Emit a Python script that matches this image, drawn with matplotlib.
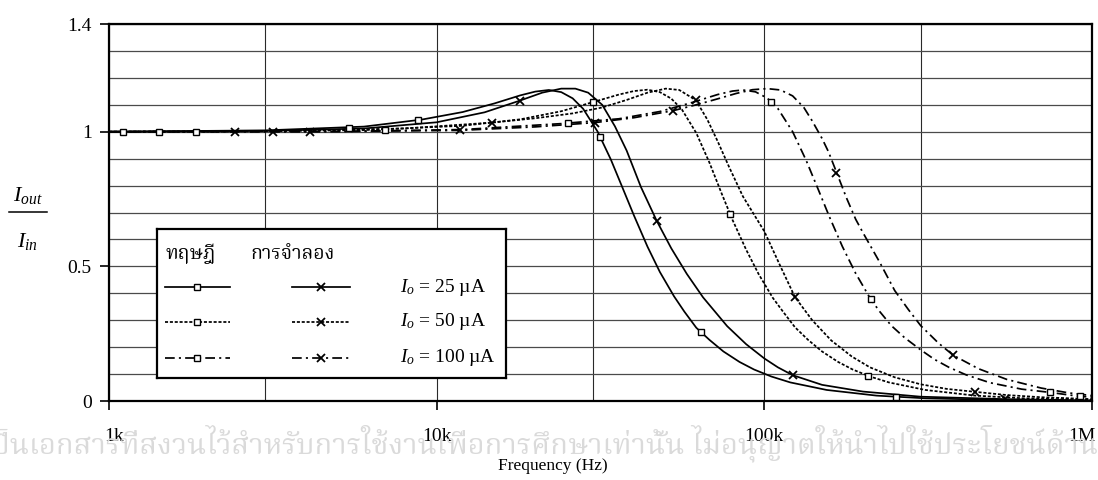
import numpy as np
import matplotlib
matplotlib.use("Agg")
import matplotlib.pyplot as plt
from matplotlib import font_manager
from matplotlib.ft2font import FT2Font
from matplotlib.lines import Line2D
from matplotlib import transforms

# ---------------- data ----------------
theory_25_f = [1e3, 3e3, 6e3, 9e3, 12e3, 15e3, 18e3, 20e3, 22e3, 24e3, 26e3, 28e3, 31e3, 34e3,
               37e3, 40e3, 44e3, 48e3, 53e3, 57e3, 62e3, 68e3, 75e3, 84e3, 93e3, 105e3, 120e3,
               155e3, 220e3, 310e3, 470e3, 1e6]
theory_25_v = [1.000, 1.005, 1.019, 1.045, 1.073, 1.105, 1.135, 1.149, 1.155, 1.147, 1.124, 1.085,
               1.000, 0.897, 0.789, 0.689, 0.573, 0.479, 0.389, 0.332, 0.272, 0.227, 0.184, 0.145,
               0.117, 0.091, 0.069, 0.041, 0.020, 0.010, 0.005, 0.001]
theory_25_mf = [1.1e3, 5.4e3, 8.8e3, 31.5e3, 64e3, 253e3]
theory_25_mv = [1.000, 1.015, 1.044, 0.982, 0.255, 0.016]

theory_50_f = [1e3, 2e3, 6e3, 12e3, 18e3, 24e3, 30e3, 36e3, 40e3, 44e3, 48e3, 52e3, 56e3, 62e3,
               68e3, 74e3, 80e3, 88e3, 96e3, 106e3, 114e3, 124e3, 136e3, 150e3, 168e3, 186e3,
               210e3, 240e3, 310e3, 440e3, 620e3, 1e6]
theory_50_v = [1.000, 1.000, 1.006, 1.022, 1.046, 1.076, 1.110, 1.138, 1.151, 1.156, 1.147, 1.123,
               1.083, 0.995, 0.885, 0.772, 0.672, 0.562, 0.472, 0.384, 0.332, 0.274, 0.227, 0.184,
               0.145, 0.117, 0.091, 0.069, 0.041, 0.020, 0.010, 0.004]
theory_50_mf = [1.42e3, 6.95e3, 30e3, 78.5e3, 207e3]
theory_50_mv = [1.000, 1.007, 1.110, 0.695, 0.094]

theory_100_f = [1e3, 5e3, 12e3, 24e3, 36e3, 48e3, 60e3, 72e3, 80e3, 86e3, 94e3, 102e3, 110e3, 122e3,
                134e3, 146e3, 158e3, 173e3, 190e3, 210e3, 224e3, 244e3, 268e3, 300e3, 330e3, 366e3,
                413e3, 488e3, 610e3, 744e3, 918e3, 1e6]
theory_100_v = [1.000, 1.001, 1.008, 1.030, 1.048, 1.075, 1.108, 1.138, 1.151, 1.155, 1.148, 1.125,
                1.086, 1.000, 0.895, 0.786, 0.684, 0.574, 0.474, 0.383, 0.335, 0.280, 0.235, 0.190,
                0.155, 0.125, 0.097, 0.068, 0.044, 0.032, 0.017, 0.015]
theory_100_mf = [1.84e3, 25.2e3, 105e3, 212e3, 744e3, 918e3]
theory_100_mv = [1.000, 1.031, 1.112, 0.378, 0.032, 0.017]

sim_25_f = [1e3, 3e3, 6e3, 10e3, 14e3, 17.9e3, 21e3, 24e3, 26.5e3, 29e3, 32e3, 35e3, 38e3, 42e3,
            46.9e3, 52e3, 58e3, 65e3, 77e3, 88e3, 100e3, 110e3, 122e3, 150e3, 200e3, 300e3, 540e3, 1e6]
sim_25_v = [1.000, 1.003, 1.012, 1.035, 1.072, 1.115, 1.145, 1.160, 1.160, 1.145, 1.100, 1.020,
            0.930, 0.795, 0.670, 0.567, 0.472, 0.385, 0.278, 0.211, 0.158, 0.125, 0.096, 0.060,
            0.035, 0.016, 0.007, 0.002]
sim_25_mf = [2.42e3, 17.9e3, 46.9e3, 122e3, 542e3]
sim_25_mv = [1.000, 1.115, 0.670, 0.096, 0.008]

sim_50_f = [1e3, 3e3, 8e3, 14.8e3, 20e3, 26e3, 32e3, 38e3, 44e3, 50e3, 55e3, 61.8e3, 67e3, 72e3,
            78e3, 86e3, 100e3, 112e3, 124e3, 140e3, 160e3, 185e3, 210e3, 250e3, 300e3, 360e3,
            440e3, 550e3, 700e3, 1e6]
sim_50_v = [1.000, 1.002, 1.012, 1.034, 1.050, 1.068, 1.090, 1.118, 1.145, 1.160, 1.155, 1.117,
            1.045, 0.965, 0.870, 0.760, 0.630, 0.500, 0.386, 0.300, 0.225, 0.165, 0.125, 0.088,
            0.062, 0.045, 0.034, 0.022, 0.014, 0.007]
sim_50_mf = [3.17e3, 14.8e3, 61.8e3, 124e3, 440e3]
sim_50_mv = [1.000, 1.034, 1.117, 0.386, 0.034]

sim_100_f = [1e3, 4.1e3, 11.8e3, 20e3, 30.5e3, 40e3, 52.6e3, 62e3, 72e3, 82e3, 92e3, 102e3, 112e3,
             122e3, 132e3, 140e3, 150e3, 157e3, 166e3, 178e3, 190e3, 200e3, 225e3, 250e3, 275e3,
             300e3, 340e3, 377e3, 450e3, 550e3, 700e3, 850e3, 1e6]
sim_100_v = [1.000, 1.000, 1.005, 1.018, 1.034, 1.052, 1.078, 1.100, 1.122, 1.142, 1.156, 1.160,
             1.155, 1.133, 1.090, 1.040, 0.975, 0.925, 0.850, 0.755, 0.675, 0.625, 0.515, 0.410,
             0.340, 0.280, 0.215, 0.170, 0.120, 0.080, 0.048, 0.030, 0.020]
sim_100_mf = [4.1e3, 11.8e3, 30.5e3, 52.6e3, 166e3, 377e3]
sim_100_mv = [1.000, 1.005, 1.034, 1.078, 0.845, 0.170]

x_ticks = [1e3, 1e4, 1e5, 1e6]
x_tick_labels = ["1k", "10k", "100k", "1M"]
x_grid_minor = [3e3, 3e4, 3e5]
y_ticks = [0, 0.5, 1, 1.4]
y_tick_labels = ["0", "0.5", "1", "1.4"]
y_grid_minor = [0.1, 0.2, 0.3, 0.4, 0.6, 0.7, 0.8, 0.9, 1.1, 1.2, 1.3]

legend_theory = "ทฤษฎี"
legend_sim = "การจำลอง"
currents = ["25", "50", "100"]
x_label = "Frequency (Hz)"
watermark = "นี้เป็นเอกสารที่สงวนไว้สำหรับการใช้งานเพื่อการศึกษาเท่านั้น ไม่อนุญาตให้นำไปใช้ประโยชน์ด้านการค้า"


# ---------------- fonts ----------------
def find_thai_font():
    preferred = ["Norasi", "Kinnari", "TH Sarabun New", "TH SarabunPSK", "Laksaman",
                 "Noto Serif Thai", "Garuda", "Loma", "Noto Sans Thai", "Waree", "Umpush"]
    found = []
    for fe in font_manager.fontManager.ttflist:
        try:
            ft = FT2Font(fe.fname)
            if ft.get_char_index(0x0E17) and ft.get_char_index(0x0E24):
                found.append(fe.name)
        except Exception:
            continue
    for p in preferred:
        if p in found:
            return p
    return found[0] if found else "DejaVu Sans"


thai = find_thai_font()

plt.rcParams["font.family"] = ["Liberation Serif", "DejaVu Serif"]
plt.rcParams["mathtext.fontset"] = "custom"
plt.rcParams["mathtext.rm"] = "Liberation Serif"
plt.rcParams["mathtext.it"] = "Liberation Serif:italic"
plt.rcParams["lines.scale_dashes"] = False

W, H = 1098, 480


def fx(x):
    return x / W


def fy(y):
    return 1 - y / H


fig = plt.figure(figsize=(W / 100, H / 100), dpi=100)
fig.patch.set_facecolor("white")

# faint watermark text along the bottom (cut at both edges, as in the reference)
fig.text(fx(-38), fy(443), watermark, fontsize=21, color="#dadada", ha="left", va="center",
         family=[thai, "DejaVu Sans"], zorder=0)

ax = fig.add_axes([fx(109), fy(401), fx(1092) - fx(109), fy(24) - fy(401)])
ax.set_xscale("log")
ax.set_xlim(1e3, 1e6)
ax.set_ylim(0, 1.4)
ax.set_facecolor("none")

ax.set_xticks(x_ticks)
ax.set_xticklabels(x_tick_labels)
ax.set_xticks(x_grid_minor, minor=True)
ax.set_xticklabels([], minor=True)
ax.set_yticks(y_ticks)
ax.set_yticklabels(y_tick_labels)
ax.set_yticks(y_grid_minor, minor=True)

ax.tick_params(axis="both", which="major", direction="out", length=6.5, width=1.2,
               labelsize=14, color="k")
ax.tick_params(axis="x", which="major", pad=13)
ax.tick_params(axis="y", which="major", pad=6)
ax.tick_params(axis="both", which="minor", length=0)

# last x tick label sits flush against the right edge, as in the reference
last = ax.get_xticklabels()[-1]
last.set_ha("right")
last.set_transform(last.get_transform() + transforms.ScaledTranslation(4 / 100, 0, fig.dpi_scale_trans))
first = ax.get_xticklabels()[0]
first.set_transform(first.get_transform() + transforms.ScaledTranslation(5 / 100, 0, fig.dpi_scale_trans))

ax.grid(True, axis="y", which="both", color="#4a4a4a", lw=0.9)
ax.grid(True, axis="x", which="both", color="#2a2a2a", lw=0.8)
ax.set_axisbelow(True)
for s in ax.spines.values():
    s.set_linewidth(1.6)
    s.set_color("k")

ls_map = {"25": "-", "50": (0, (2.2, 1.3)), "100": (0, (7, 3, 1.5, 3))}
lw = 1.25

series = [
    ("25", theory_25_f, theory_25_v, theory_25_mf, theory_25_mv, "s"),
    ("50", theory_50_f, theory_50_v, theory_50_mf, theory_50_mv, "s"),
    ("100", theory_100_f, theory_100_v, theory_100_mf, theory_100_mv, "s"),
    ("25", sim_25_f, sim_25_v, sim_25_mf, sim_25_mv, "x"),
    ("50", sim_50_f, sim_50_v, sim_50_mf, sim_50_mv, "x"),
    ("100", sim_100_f, sim_100_v, sim_100_mf, sim_100_mv, "x"),
]


def marker_kw(m):
    if m == "s":
        return dict(marker="s", ms=5, mfc="white", mec="k", mew=1.0)
    return dict(marker="x", ms=6, mec="k", mew=1.3)


for cur, f, v, mf, mv, m in series:
    ax.plot(f, v, color="k", lw=lw, ls=ls_map[cur], zorder=3)
    ax.plot(mf, mv, ls="none", zorder=4, **marker_kw(m))

# y label as a fraction
fig.text(fx(28), fy(196), r"$I_{out}$", ha="center", va="center", fontsize=16)
fig.add_artist(Line2D([fx(9), fx(47)], [fy(212), fy(212)], color="k", lw=1.1))
fig.text(fx(27), fy(242), r"$I_{in}$", ha="center", va="center", fontsize=16)

# x label
fig.text(fx(553), fy(466), x_label, ha="center", va="center", fontsize=12.5, color="k")

# legend box
lx0, lx1, ly0, ly1 = 157, 506, 229, 378
lax = fig.add_axes([fx(lx0), fy(ly1), fx(lx1) - fx(lx0), fy(ly0) - fy(ly1)])
lax.set_xlim(lx0, lx1)
lax.set_ylim(ly1, ly0)
lax.set_xticks([])
lax.set_yticks([])
lax.set_facecolor("white")
for s in lax.spines.values():
    s.set_linewidth(1.6)
    s.set_color("k")

lax.text(165, 254, legend_theory, ha="left", va="center", fontsize=14,
         family=[thai, "DejaVu Sans"], fontweight="bold")
lax.text(250, 254, legend_sim, ha="left", va="center", fontsize=14,
         family=[thai, "DejaVu Sans"], fontweight="bold")

row_y = [287, 322, 358]
for cur, yy in zip(currents, row_y):
    lax.plot([165, 230], [yy, yy], color="k", lw=lw, ls=ls_map[cur])
    lax.plot([197], [yy], ls="none", **marker_kw("s"))
    lax.plot([292, 350], [yy, yy], color="k", lw=lw, ls=ls_map[cur])
    lax.plot([321], [yy], ls="none", **marker_kw("x"))
    lax.text(400, yy, r"$I_o$" + " = " + cur + " µA", ha="left", va="center", fontsize=14)

fig.savefig("out.png", dpi=100, facecolor="white")
